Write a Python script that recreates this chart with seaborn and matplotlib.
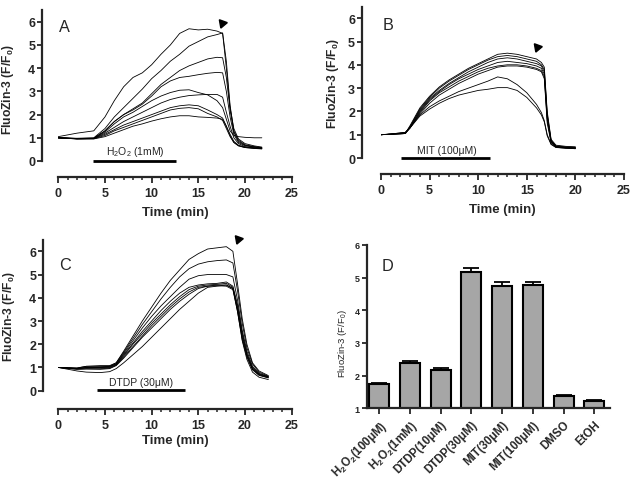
import matplotlib
matplotlib.use("Agg")
import matplotlib.pyplot as plt
from matplotlib.ticker import MultipleLocator
import seaborn as sns
import pandas as pd

# ---------------- data ----------------
# A: H2O2 (1mM), single-cell FluoZin-3 traces (F/F0)
time_a = [0, 2, 3.8, 5, 6, 7, 8, 9, 10, 11, 12, 13, 14, 15, 16, 17, 17.6, 18, 18.4, 18.8, 19.3, 20, 21, 21.8]
traces_a = [
    [1.05, 1.2, 1.3, 1.9, 2.6, 3.2, 3.6, 3.8, 4.15, 4.6, 5.0, 5.5, 5.7, 5.65, 5.68, 5.6, 5.5, 4.0, 2.3, 1.4, 0.95, 0.75, 0.65, 0.6],
    [1.0, 0.98, 1.0, 1.4, 1.9, 2.3, 2.7, 3.1, 3.55, 3.9, 4.3, 4.6, 4.95, 5.15, 5.35, 5.45, 5.52, 4.3, 2.4, 1.3, 0.9, 0.7, 0.62, 0.58],
    [1.0, 0.97, 0.98, 1.3, 1.7, 2.0, 2.25, 2.5, 2.9, 3.3, 3.6, 3.9, 4.1, 4.25, 4.4, 4.47, 4.45, 3.6, 2.2, 1.25, 0.85, 0.68, 0.6, 0.56],
    [1.0, 0.97, 0.98, 1.3, 1.7, 2.0, 2.2, 2.45, 2.8, 3.2, 3.45, 3.6, 3.65, 3.72, 3.78, 3.82, 3.8, 3.0, 1.9, 1.15, 0.8, 0.66, 0.6, 0.57],
    [1.0, 0.96, 0.97, 1.25, 1.6, 1.9, 2.1, 2.35, 2.6, 2.8, 2.95, 3.05, 3.07, 2.95, 2.85, 2.6, 2.3, 1.8, 1.3, 1.1, 1.05, 1.02, 1.0, 1.0],
    [1.0, 0.96, 0.97, 1.2, 1.45, 1.7, 1.9, 2.1, 2.3, 2.5, 2.65, 2.75, 2.82, 2.85, 2.87, 2.87, 2.75, 2.1, 1.5, 1.0, 0.75, 0.62, 0.57, 0.55],
    [1.0, 0.96, 0.97, 1.15, 1.35, 1.55, 1.7, 1.85, 2.0, 2.15, 2.3, 2.38, 2.42, 2.38, 2.2, 2.0, 1.85, 1.5, 1.15, 0.85, 0.68, 0.6, 0.56, 0.54],
    [1.0, 0.95, 0.96, 1.1, 1.3, 1.45, 1.6, 1.75, 1.9, 2.05, 2.2, 2.27, 2.3, 2.25, 2.05, 1.9, 1.75, 1.4, 1.05, 0.8, 0.66, 0.58, 0.55, 0.53],
    [1.0, 0.95, 0.95, 1.05, 1.2, 1.35, 1.5, 1.6, 1.72, 1.82, 1.9, 1.95, 1.95, 1.9, 1.88, 1.85, 1.8, 1.5, 1.1, 0.8, 0.65, 0.58, 0.54, 0.52],
]

# B: MIT (100uM)
time_b = [0, 1, 2.5, 3, 4, 5, 6, 7, 8, 9, 10, 11, 12, 13, 14, 15, 16, 16.5, 16.8, 17.1, 17.5, 18, 19, 20]
traces_b = [
    [1.0, 1.02, 1.05, 1.4, 2.15, 2.65, 3.05, 3.35, 3.6, 3.85, 4.05, 4.25, 4.45, 4.5, 4.45, 4.35, 4.25, 4.1, 3.9, 2.0, 0.8, 0.55, 0.5, 0.48],
    [1.0, 1.02, 1.05, 1.35, 2.1, 2.6, 3.0, 3.3, 3.55, 3.8, 4.0, 4.2, 4.35, 4.4, 4.35, 4.25, 4.15, 4.0, 3.8, 1.9, 0.75, 0.52, 0.48, 0.46],
    [1.0, 1.02, 1.08, 1.35, 2.05, 2.55, 2.9, 3.2, 3.45, 3.7, 3.9, 4.1, 4.25, 4.3, 4.25, 4.15, 4.05, 3.95, 3.7, 1.8, 0.75, 0.5, 0.45, 0.44],
    [1.0, 1.03, 1.1, 1.3, 2.0, 2.5, 2.85, 3.15, 3.4, 3.6, 3.8, 3.95, 4.1, 4.15, 4.1, 4.05, 3.95, 3.85, 3.6, 1.7, 0.7, 0.5, 0.45, 0.44],
    [1.0, 1.03, 1.1, 1.3, 1.95, 2.45, 2.8, 3.05, 3.3, 3.5, 3.7, 3.85, 3.95, 4.0, 4.0, 3.95, 3.85, 3.75, 3.5, 1.6, 0.7, 0.48, 0.44, 0.42],
    [1.0, 1.02, 1.08, 1.3, 1.9, 2.35, 2.7, 2.95, 3.2, 3.4, 3.6, 3.75, 3.9, 3.95, 3.95, 3.9, 3.8, 3.7, 3.4, 1.5, 0.65, 0.48, 0.44, 0.42],
    [1.0, 1.02, 1.05, 1.3, 1.85, 2.2, 2.45, 2.65, 2.85, 3.0, 3.15, 3.3, 3.48, 3.4, 3.15, 2.8, 2.3, 1.95, 1.6, 1.0, 0.6, 0.46, 0.42, 0.4],
    [1.0, 1.02, 1.05, 1.3, 1.8, 2.1, 2.35, 2.55, 2.7, 2.8, 2.9, 2.95, 3.02, 3.02, 2.9, 2.6, 2.15, 1.85, 1.55, 0.95, 0.58, 0.45, 0.42, 0.4],
]

# C: DTDP (30uM)
time_c = [0, 2, 3, 4.5, 5.5, 6.2, 7, 8, 9, 10, 11, 12, 13, 14, 15, 16, 17, 18, 18.7, 19.2, 19.7, 20.2, 20.8, 21.5, 22.5]
traces_c = [
    [1.0, 0.98, 1.05, 1.05, 1.05, 1.2, 1.7, 2.35, 3.0, 3.6, 4.2, 4.75, 5.2, 5.65, 5.9, 6.1, 6.15, 6.2, 6.0, 4.6, 3.1, 2.0, 1.2, 0.85, 0.65],
    [1.0, 0.97, 1.05, 1.08, 1.08, 1.2, 1.65, 2.25, 2.85, 3.4, 3.95, 4.45, 4.9, 5.25, 5.45, 5.55, 5.6, 5.63, 5.5, 4.3, 2.9, 1.85, 1.15, 0.8, 0.62],
    [1.0, 0.96, 1.0, 1.0, 1.02, 1.15, 1.6, 2.15, 2.7, 3.2, 3.65, 4.05, 4.45, 4.8, 4.95, 5.0, 5.0, 5.0, 4.9, 3.9, 2.6, 1.7, 1.05, 0.75, 0.6],
    [1.0, 0.95, 1.0, 1.02, 1.05, 1.15, 1.55, 2.05, 2.55, 3.0, 3.45, 3.85, 4.2, 4.45, 4.55, 4.6, 4.62, 4.68, 4.5, 3.7, 2.5, 1.6, 1.0, 0.72, 0.6],
    [1.0, 0.95, 0.98, 1.0, 1.0, 1.12, 1.5, 2.0, 2.45, 2.9, 3.3, 3.7, 4.05, 4.35, 4.5, 4.55, 4.58, 4.62, 4.45, 3.6, 2.4, 1.55, 0.95, 0.7, 0.58],
    [1.0, 0.93, 0.95, 0.95, 0.97, 1.1, 1.45, 1.9, 2.35, 2.8, 3.2, 3.6, 3.95, 4.25, 4.45, 4.5, 4.55, 4.55, 4.4, 3.5, 2.3, 1.5, 0.92, 0.68, 0.56],
    [1.0, 0.92, 0.93, 0.92, 0.95, 1.08, 1.4, 1.85, 2.3, 2.7, 3.1, 3.5, 3.85, 4.15, 4.4, 4.5, 4.52, 4.5, 4.35, 3.4, 2.2, 1.45, 0.9, 0.66, 0.55],
    [1.0, 0.85, 0.8, 0.78, 0.82, 0.95, 1.2, 1.55, 1.9, 2.3, 2.7, 3.1, 3.5, 3.85, 4.2, 4.45, 4.5, 4.55, 4.4, 3.4, 2.15, 1.35, 0.8, 0.58, 0.48],
]

# D: peak responses, mean and SEM
d_labels = ["H$_2$O$_2$(100μM)", "H$_2$O$_2$(1mM)", "DTDP(10μM)", "DTDP(30μM)",
            "MIT(30μM)", "MIT(100μM)", "DMSO", "EtOH"]
d_mean = [1.73, 2.38, 2.17, 5.16, 4.75, 4.78, 1.39, 1.23]
d_sem = [0.05, 0.06, 0.06, 0.15, 0.12, 0.08, 0.03, 0.01]

# ---------------- styling ----------------
sns.set_style("ticks")
plt.rcParams['font.family'] = ['Liberation Sans', 'DejaVu Sans']
plt.rcParams['mathtext.default'] = 'regular'

PX = 0.72  # points per pixel at dpi 100
W, H = 631, 481


def to_pos(left, right, top, bottom):
    return [left / W, 1 - bottom / H, (right - left) / W, (bottom - top) / H]


def traces_to_df(times, traces):
    rows = []
    for i, tr in enumerate(traces):
        for t, v in zip(times, tr):
            rows.append({"t": t, "v": v, "cell": i})
    return pd.DataFrame(rows)


def style_trace_axes(ax, left_off, bottom_off, ylab_x, ylab_y, xlab_y):
    sns.despine(ax=ax)
    ax.spines['left'].set_position(('outward', left_off * PX))
    ax.spines['bottom'].set_position(('outward', bottom_off * PX))
    for s in ('left', 'bottom'):
        ax.spines[s].set_linewidth(1.6)
    ax.set_xlim(0, 25)
    ax.set_ylim(0, 6.5)
    ax.xaxis.set_major_locator(MultipleLocator(5))
    ax.xaxis.set_minor_locator(MultipleLocator(1))
    ax.yaxis.set_major_locator(MultipleLocator(1))
    ax.tick_params(axis='x', which='major', length=4, width=1.3, pad=3.5, labelsize=9)
    ax.tick_params(axis='x', which='minor', length=2, width=1.1)
    ax.tick_params(axis='y', which='major', length=3.5, width=1.3, pad=1.5, labelsize=9)
    for lab in ax.get_xticklabels() + ax.get_yticklabels():
        lab.set_fontweight('bold')
    ax.set_ylabel("FluoZin-3 (F/F$_0$)", fontsize=8.7, fontweight='bold')
    ax.yaxis.set_label_coords(ylab_x, ylab_y)
    ax.set_xlabel("Time (min)", fontsize=9.5, fontweight='bold', va='top')
    ax.xaxis.set_label_coords(0.5, xlab_y)


fig = plt.figure(figsize=(6.31, 4.81), dpi=100)

# ---- A ----
ax_a = fig.add_axes(to_pos(58.3, 291.7, 162 - 6.5 * 23.2, 162))
sns.lineplot(data=traces_to_df(time_a, traces_a), x="t", y="v", units="cell",
             estimator=None, color="black", linewidth=0.6, ax=ax_a, legend=False)
style_trace_axes(ax_a, 16, 16, -0.18, 0.48, -0.3)
ax_a.text(0.1, 5.8, "A", fontsize=11.7, ha='left', va='center')
ax_a.plot([3.75, 12.6], [0, 0], color='black', lw=2.0, clip_on=False, solid_capstyle='butt')
ax_a.text(8.2, 0.42, "H$_2$O$_2$ (1mM)", fontsize=7.5, ha='center', va='center')
ax_a.plot([17.5], [5.95], marker=(3, 0, 160), markersize=7, color='black', clip_on=False)

# ---- B ----
ax_b = fig.add_axes(to_pos(381, 624, 159 - 6.5 * 23.3, 159))
sns.lineplot(data=traces_to_df(time_b, traces_b), x="t", y="v", units="cell",
             estimator=None, color="black", linewidth=0.6, ax=ax_b, legend=False)
style_trace_axes(ax_b, 19, 16, -0.166, 0.5, -0.3)
ax_b.text(0.17, 5.75, "B", fontsize=11.7, ha='left', va='center')
ax_b.plot([2.1, 11.25], [0, 0], color='black', lw=2.0, clip_on=False, solid_capstyle='butt')
ax_b.text(6.75, 0.33, "MIT (100μM)", fontsize=7.5, ha='center', va='center')
ax_b.plot([16.0], [4.75], marker=(3, 0, 160), markersize=7, color='black', clip_on=False)

# ---- C ----
ax_c = fig.add_axes(to_pos(58.3, 291.7, 391.7 - 6.5 * 23.23, 391.7))
sns.lineplot(data=traces_to_df(time_c, traces_c), x="t", y="v", units="cell",
             estimator=None, color="black", linewidth=0.6, ax=ax_c, legend=False)
style_trace_axes(ax_c, 15, 18, -0.178, 0.5, -0.29)
ax_c.text(0.1, 5.45, "C", fontsize=11.7, ha='left', va='center')
ax_c.plot([4.1, 13.6], [0.04, 0.04], color='black', lw=2.0, clip_on=False, solid_capstyle='butt')
ax_c.text(8.9, 0.38, "DTDP (30μM)", fontsize=7.5, ha='center', va='center')
ax_c.plot([19.2], [6.55], marker=(3, 0, 160), markersize=7, color='black', clip_on=False)

# ---- D ----
ax_d = fig.add_axes(to_pos(366.7, 610.2, 246, 409.3))
sns.barplot(x=list(range(len(d_labels))), y=d_mean, color='#a6a6a6', saturation=1,
            edgecolor='black', linewidth=1.5, width=0.65, errorbar=None, ax=ax_d,
            native_scale=True)
ax_d.errorbar(range(len(d_labels)), d_mean, yerr=[[0] * len(d_sem), d_sem], fmt='none',
              ecolor='black', elinewidth=1.3, capsize=6, capthick=1.3, zorder=1)
sns.despine(ax=ax_d)
ax_d.set_xlim(-0.41, 7.52)
ax_d.set_ylim(1, 6)
ax_d.set_yticks([1, 2, 3, 4, 5, 6])
ax_d.set_xticks(range(len(d_labels)))
ax_d.set_xticklabels(d_labels, rotation=45, ha='right', rotation_mode='anchor',
                     fontsize=8.3, fontweight='bold')
for lab in ax_d.get_yticklabels():
    lab.set_fontweight('bold')
ax_d.tick_params(axis='y', length=3.5, width=1.3, pad=1.5, labelsize=6.5)
ax_d.tick_params(axis='x', length=4, width=1.3, pad=3)
for s in ('left', 'bottom'):
    ax_d.spines[s].set_linewidth(1.6)
ax_d.set_xlabel("")
ax_d.set_ylabel("FluoZin-3 (F/F$_0$)", fontsize=6.8)
ax_d.yaxis.set_label_coords(-0.071, 0.404)
ax_d.text(0.08, 5.37, "D", fontsize=11.7, ha='left', va='center')

fig.savefig("out.png", dpi=100)
